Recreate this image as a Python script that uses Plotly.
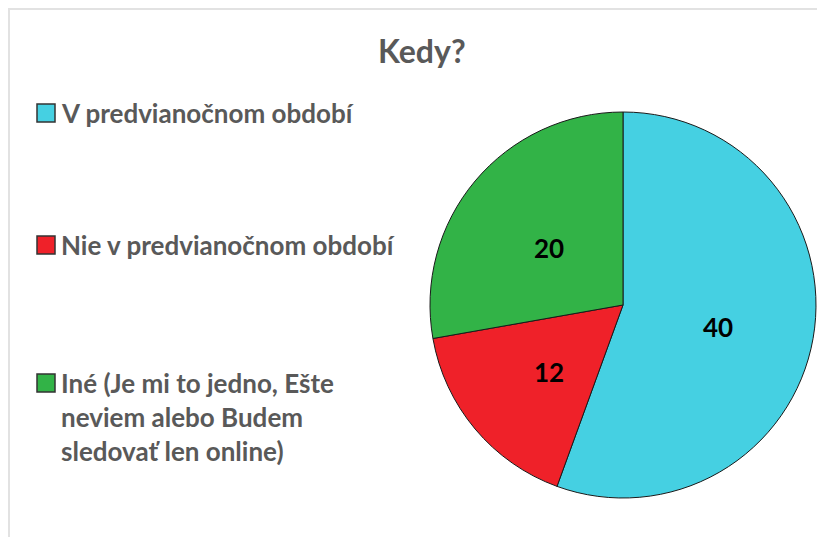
import math
import plotly.graph_objects as go

W, H = 825, 537
OFF = 8  # page body margin

title_text = "Kedy?"
categories = ["V predvianočnom období", "Nie v predvianočnom období",
              "Iné (Je mi to jedno, Ešte<br>neviem alebo Budem<br>sledovať len online)"]
values = [40, 12, 20]
colors = ["#45d0e2", "#ef2129", "#32b347"]

def px_x(x):
    return (x - OFF) / W

def px_y(y):
    return 1 - (y - OFF) / H

cx, cy, r = 623, 305, 193

fig = go.Figure()
fig.add_trace(go.Pie(
    labels=categories, values=values, sort=False, direction="clockwise", rotation=0,
    marker=dict(colors=colors, line=dict(color="#1a1a1a", width=1)),
    textinfo="none",
    domain=dict(x=[px_x(cx - r), px_x(cx + r)], y=[px_y(cy + r), px_y(cy - r)]),
    showlegend=False, hoverinfo="label+value",
))

shapes = [dict(type="rect", xref="paper", yref="paper",
               x0=px_x(9), x1=px_x(840), y0=px_y(560), y1=px_y(9),
               line=dict(color="#e2e2e2", width=2), fillcolor="rgba(0,0,0,0)", layer="below")]
annotations = [dict(text="<b>" + title_text + "</b>", x=px_x(422), y=px_y(50), xref="paper", yref="paper",
                    showarrow=False, xanchor="center", yanchor="middle",
                    font=dict(family="Lato", size=32, color="#595959"))]

# slice value labels along each slice's bisector
total = sum(values)
cum = 0
for v in values:
    mid = (cum + v / 2) / total * 2 * math.pi
    cum += v
    lx = cx + 0.5 * r * math.sin(mid)
    ly = cy - 0.5 * r * math.cos(mid) + 5
    annotations.append(dict(text="<b>%d</b>" % v, x=px_x(lx), y=px_y(ly), xref="paper", yref="paper",
                            showarrow=False, xanchor="center", yanchor="middle",
                            font=dict(family="Lato", size=26, color="#000000")))

legend_y = [113, 245, 383]
for cat, col, ly in zip(categories, colors, legend_y):
    shapes.append(dict(type="rect", xref="paper", yref="paper",
                       x0=px_x(37), x1=px_x(55), y0=px_y(ly + 9), y1=px_y(ly - 9),
                       fillcolor=col, line=dict(color="#333333", width=1.5)))
    annotations.append(dict(text="<b>" + cat + "</b>", x=px_x(59), y=px_y(ly - 18), xref="paper", yref="paper",
                            showarrow=False, xanchor="left", yanchor="top", align="left",
                            font=dict(family="Lato", size=26, color="#595959")))

fig.update_layout(
    width=W, height=H, margin=dict(l=0, r=0, t=0, b=0),
    paper_bgcolor="white", plot_bgcolor="white",
    shapes=shapes, annotations=annotations, showlegend=False,
)

fig.write_html("out.html")
